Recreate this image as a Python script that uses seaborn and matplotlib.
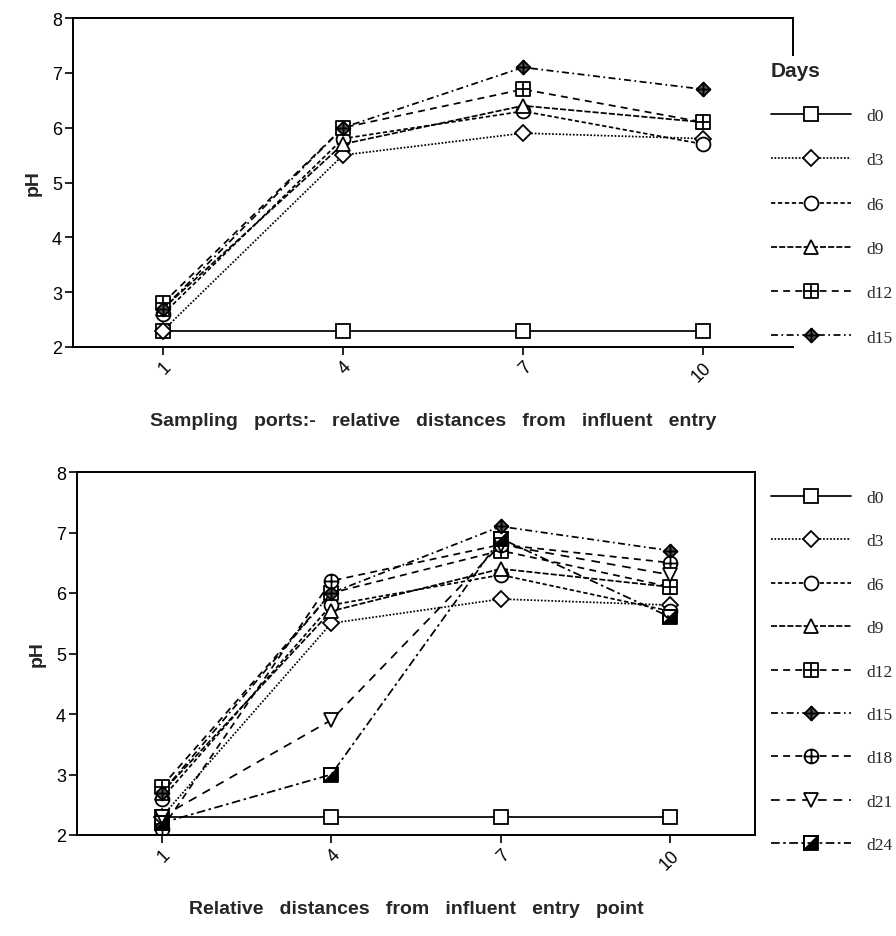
import matplotlib
matplotlib.use("Agg")
import matplotlib.pyplot as plt
from matplotlib.path import Path
import seaborn as sns

sns.set_theme(style="white")
plt.rcParams['font.family'] = ['Liberation Sans', 'DejaVu Sans']

# ---------------- data ----------------
ports = [1, 4, 7, 10]
port_labels = ["1", "4", "7", "10"]

top_d0 = [2.3, 2.3, 2.3, 2.3]
top_d3 = [2.3, 5.5, 5.9, 5.8]
top_d6 = [2.6, 5.8, 6.3, 5.7]
top_d9 = [2.7, 5.7, 6.4, 6.1]
top_d12 = [2.8, 6.0, 6.7, 6.1]
top_d15 = [2.7, 6.0, 7.1, 6.7]

bot_d0 = [2.3, 2.3, 2.3, 2.3]
bot_d3 = [2.3, 5.5, 5.9, 5.8]
bot_d6 = [2.6, 5.8, 6.3, 5.7]
bot_d9 = [2.7, 5.7, 6.4, 6.1]
bot_d12 = [2.8, 6.0, 6.7, 6.1]
bot_d15 = [2.7, 6.0, 7.1, 6.7]
bot_d18 = [2.1, 6.2, 6.8, 6.5]
bot_d21 = [2.3, 3.9, 6.8, 6.3]
bot_d24 = [2.2, 3.0, 6.9, 5.6]

top_names = ["d0", "d3", "d6", "d9", "d12", "d15"]
bot_names = ["d0", "d3", "d6", "d9", "d12", "d15", "d18", "d21", "d24"]

# ---------------- marker shapes ----------------
M, L, C = Path.MOVETO, Path.LINETO, Path.CLOSEPOLY
cross = Path([(-1, 0), (1, 0), (0, -1), (0, 1)], [M, L, M, L])
sq_plus = Path.make_compound_path(
    Path([(-1, -1), (1, -1), (1, 1), (-1, 1), (-1, -1)], [M, L, L, L, C]), cross)
circ_plus = Path.make_compound_path(Path.unit_circle(), cross)
dia_plus = Path.make_compound_path(
    Path([(0, -1), (1, 0), (0, 1), (-1, 0), (0, -1)], [M, L, L, L, C]), cross)
half_sq = Path([(-1, -1), (1, -1), (1, 1), (-1, 1), (-1, -1),
                (-1, -1), (-1, 1), (1, 1), (-1, -1)],
               [M, L, L, L, C, M, L, L, C])

styles = {
    "d0": dict(marker="s", ls="-", ms=10, mfc="white"),
    "d3": dict(marker="D", ls=(0, (1, 1)), ms=8, mfc="white"),
    "d6": dict(marker="o", ls=(0, (2.5, 1.5)), ms=10, mfc="white"),
    "d9": dict(marker="^", ls=(0, (3.5, 1.2)), ms=10, mfc="white"),
    "d12": dict(marker=sq_plus, ls=(0, (4, 3)), ms=10, mfc="white"),
    "d15": dict(marker=dia_plus, ls=(0, (4, 2, 1, 2)), ms=10, mfc="#555555"),
    "d18": dict(marker=circ_plus, ls=(0, (4, 3)), ms=10, mfc="white"),
    "d21": dict(marker="v", ls=(0, (5, 4)), ms=10, mfc="white"),
    "d24": dict(marker=half_sq, ls=(0, (5, 2, 1.5, 2)), ms=10, mfc="black"),
}

fig = plt.figure(figsize=(8.96, 9.37), dpi=100)
W, H = 896, 937


def add_ax(l, t, r, b):
    return fig.add_axes([l / W, 1 - b / H, (r - l) / W, (b - t) / H])


ax1 = add_ax(73, 19, 793, 348)
ax2 = add_ax(77, 473, 755, 836)

top_vals = [top_d0, top_d3, top_d6, top_d9, top_d12, top_d15]
bot_vals = [bot_d0, bot_d3, bot_d6, bot_d9, bot_d12, bot_d15, bot_d18, bot_d21, bot_d24]

legend_font = dict(family="Liberation Serif", size=12.5)

for ax, names, vals, xlabel in [
    (ax1, top_names, top_vals, "Sampling   ports:-   relative   distances   from   influent   entry"),
    (ax2, bot_names, bot_vals, "Relative   distances   from   influent   entry   point"),
]:
    for n, v in zip(names, vals):
        st = styles[n]
        sns.lineplot(x=ports, y=v, ax=ax, color="black", marker=st["marker"],
                     linestyle=st["ls"], markersize=st["ms"], mfc=st["mfc"],
                     mec="black", mew=1.3, lw=1.25, label=n, errorbar=None)
    ax.set_xlim(-0.5, 11.5)
    ax.set_ylim(2, 8)
    ax.set_xticks(ports)
    ax.set_xticklabels(port_labels, rotation=45, ha="right", rotation_mode="anchor")
    ax.set_yticks([2, 3, 4, 5, 6, 7, 8])
    ax.tick_params(axis="both", direction="out", length=6, width=1.2, pad=2,
                   labelsize=13, colors="black", bottom=True, left=True)
    for s in ax.spines.values():
        s.set_visible(True)
        s.set_color("black")
        s.set_linewidth(1.4)
    ax.set_ylabel("pH", fontsize=14, fontweight="bold", labelpad=7)
    ax.set_xlabel(xlabel, fontsize=14, fontweight="bold", labelpad=20)
    ax.grid(False)

# bottom spine of the top panel stays visible above the legend box
ax1.spines["bottom"].set_zorder(6)

# legends
h1, l1 = ax1.get_legend_handles_labels()
leg1 = ax1.legend(h1, l1, loc="upper left", bbox_to_anchor=(757 / W, 1 - 48 / H),
                  bbox_transform=fig.transFigure, handlelength=4.6, handletextpad=0.9,
                  labelspacing=1.62, prop=legend_font, frameon=True, facecolor="white",
                  edgecolor="none", framealpha=1, title="Days", borderpad=0.3,
                  title_fontproperties=dict(family="Liberation Sans", weight="bold", size=15))
leg1._legend_box.align = "left"

h2, l2 = ax2.get_legend_handles_labels()
ax2.legend(h2, l2, loc="upper left", bbox_to_anchor=(757 / W, 1 - 477 / H),
           bbox_transform=fig.transFigure, handlelength=4.6, handletextpad=0.9,
           labelspacing=1.57, prop=legend_font, frameon=False, borderpad=0.3)

fig.savefig("out.png", dpi=100)
